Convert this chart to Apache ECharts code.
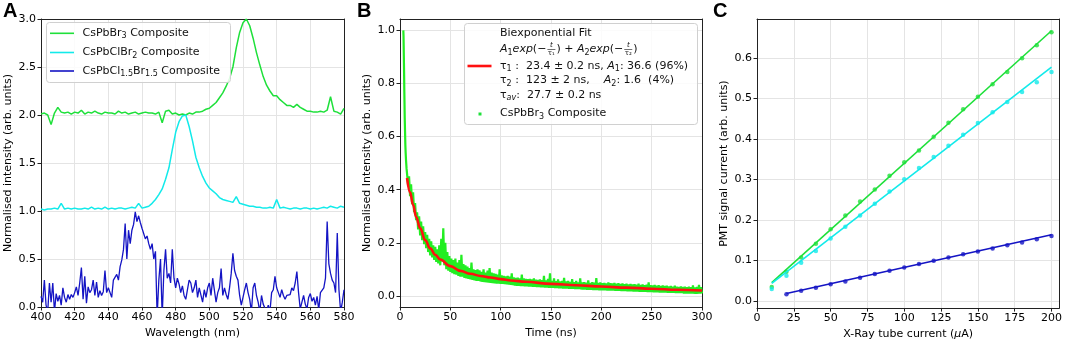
<!DOCTYPE html>
<html>
<head>
<meta charset="utf-8">
<script src="https://cdn.jsdelivr.net/npm/echarts@6/dist/echarts.min.js"></script>
<style>
  html, body { margin: 0; padding: 0; background: #fff; }
  #chart { width: 1065px; height: 345px; }
</style>
</head>
<body>
<div id="chart"></div>
<script>
// ---- panel A : emission spectra (normalised, offset) ----
var wlStart = 400;
// CsPbBr3, every 2 nm from 400
var specBr3 = [2.01,2.02,2.0,1.9,2.02,2.08,2.03,2.02,2.03,2.01,2.03,2.02,2.05,2.01,2.03,2.02,2.04,2.02,2.01,2.03,
  2.02,2.02,2.01,2.04,2.02,2.03,2.01,2.02,2.03,2.01,2.02,2.03,2.02,2.02,2.01,2.03,1.92,2.04,2.05,2.01,
  2.02,2.0,2.01,2.0,2.02,2.01,2.03,2.03,2.04,2.06,2.07,2.1,2.13,2.18,2.23,2.3,2.38,2.5,2.7,2.86,
  2.96,3.0,2.93,2.8,2.65,2.52,2.4,2.31,2.25,2.2,2.2,2.16,2.13,2.1,2.1,2.08,2.11,2.08,2.06,2.04,
  2.04,2.03,2.03,2.04,2.03,2.05,2.19,2.04,2.03,2.01,2.07];
// CsPbClBr2, every 2 nm from 400
var specClBr2 = [1.02,1.01,1.02,1.02,1.03,1.02,1.08,1.02,1.03,1.02,1.03,1.02,1.02,1.03,1.02,1.04,1.02,1.03,1.02,1.04,
  1.02,1.03,1.02,1.03,1.03,1.02,1.03,1.04,1.03,1.08,1.03,1.04,1.05,1.08,1.12,1.17,1.23,1.33,1.45,1.64,
  1.82,1.93,1.99,2.0,1.88,1.73,1.56,1.45,1.36,1.29,1.24,1.21,1.18,1.14,1.12,1.11,1.1,1.09,1.15,1.08,
  1.07,1.06,1.05,1.05,1.04,1.04,1.03,1.03,1.04,1.03,1.12,1.03,1.04,1.03,1.02,1.03,1.03,1.02,1.03,1.03,
  1.02,1.03,1.02,1.03,1.04,1.03,1.05,1.04,1.03,1.05,1.04];
// CsPbCl1.5Br1.5, every 1 nm from 400
var specCl15 = [0.11,0.05,0.28,0.02,-0.05,0.25,0.05,0.25,-0.05,0.14,0.06,0.12,0.02,0.2,0.1,0.05,0.13,0.08,0.13,0.1,
  0.15,0.21,0.12,0.25,0.41,0.08,0.32,0.04,0.21,0.15,0.18,0.28,0.12,0.26,0.1,0.17,0.12,0.16,0.38,0.15,
  0.2,0.21,0.1,0.28,0.3,0.34,0.28,0.42,0.49,0.6,0.87,0.5,0.8,0.66,0.8,0.86,0.99,0.89,0.95,0.88,
  0.82,0.8,0.71,0.74,0.66,0.6,0.66,0.5,0.58,-0.1,0.28,0.5,-0.1,0.38,0.6,0.3,0.35,0.25,0.6,0.3,
  0.2,0.3,0.24,0.15,0.22,0.12,0.08,0.18,0.28,0.25,0.15,0.2,0.28,0.1,0.2,0.18,0.05,0.18,0.1,0.2,
  0.25,0.12,0.3,0.32,0.05,0.15,0.2,0.4,0.12,0.2,0.13,0.08,0.2,0.35,0.56,0.38,0.32,0.28,0.12,0.02,
  0.1,0.18,0.25,0.15,0.08,-0.05,0.2,0.25,0.12,0.05,-0.05,0.12,0.03,0.05,-0.05,0.02,-0.05,0.15,0.18,0.32,
  0.2,0.15,0.1,0.18,0.12,0.08,0.12,0.1,0.13,0.2,0.17,0.25,0.37,0.15,-0.02,0.05,0.12,0.03,-0.02,0.1,
  0.14,0.06,0.1,0.02,0.11,-0.03,0.15,0.15,0.2,0.3,0.89,0.45,0.35,0.28,0.25,0.15,0.77,0.18,-0.05,0.05,
  0.18];

// ---- panel B : PL decay ----
var earlyT = [3.3,3.5,3.7,3.9,4.1,4.3,4.5,4.7,5.0,5.3,5.6,6.0,6.5];
var earlyV = [1.0,0.98,0.93,0.88,0.83,0.77,0.72,0.67,0.62,0.57,0.54,0.51,0.48];
var decayStart = 7; // ns, 1 ns steps
var decay = [0.475,0.42,0.45,0.375,0.42,0.345,0.39,0.315,0.35,0.285,
  0.315,0.25,0.30,0.228,0.28,0.21,0.262,0.195,0.24,0.18,
  0.23,0.165,0.215,0.152,0.205,0.145,0.19,0.135,0.185,0.128,
  0.175,0.122,0.19,0.115,0.215,0.13,0.255,0.115,0.20,0.10,
  0.165,0.095,0.15,0.09,0.14,0.085,0.135,0.082,0.14,0.08,
  0.125,0.075,0.135,0.072,0.155,0.072,0.12,0.068,0.115,0.066,
  0.11,0.064,0.105,0.062,0.125,0.06,0.10,0.058,0.097,0.056,
  0.10,0.056,0.096,0.054,0.09,0.053,0.10,0.052,0.088,0.051,
  0.095,0.05,0.105,0.049,0.088,0.048,0.085,0.047,0.083,0.046,
  0.08,0.046,0.10,0.045,
  0.077,0.045,0.075,0.044,0.073,0.043,0.075,0.042,0.072,0.041,
  0.085,0.04,0.07,0.039,0.068,0.038,0.069,0.038,0.066,0.037,
  0.08,0.037,0.066,0.036,0.064,0.036,0.063,0.035,0.064,0.035,
  0.062,0.034,0.066,0.034,0.061,0.033,0.06,0.033,0.062,0.032,
  0.059,0.032,0.075,0.031,0.058,0.031,0.064,0.03,0.085,0.03,
  0.056,0.03,0.066,0.029,0.055,0.029,0.062,0.028,0.054,0.028,
  0.056,0.027,0.068,0.027,0.054,0.027,0.056,0.026,0.053,0.026,
  0.063,0.026,0.052,0.025,0.056,0.025,0.051,0.025,0.066,0.024,
  0.051,0.024,0.052,0.024,0.05,0.023,0.058,0.023,0.049,0.023,
  0.052,0.022,0.05,0.022,0.067,0.022,0.049,0.021,0.051,0.021,
  0.048,0.021,0.049,0.021,0.047,0.02,0.051,0.02,0.048,0.02,
  0.047,0.02,0.049,0.019,0.046,0.019,0.048,0.019,0.045,0.018,
  0.047,0.018,0.044,0.018,0.046,0.017,0.043,0.017,0.045,0.017,
  0.043,0.016,0.044,0.016,0.042,0.016,0.046,0.015,0.041,0.015,
  0.043,0.015,0.04,0.015,0.042,0.014,0.051,0.014,0.04,0.014,
  0.039,0.013,0.041,0.013,0.038,0.013,0.04,0.012,0.037,0.012,
  0.039,0.012,0.037,0.012,0.038,0.011,0.036,0.011,0.037,0.011,
  0.035,0.011,0.038,0.010,0.035,0.010,0.034,0.010,0.036,0.010,
  0.034,0.009,0.035,0.009,0.033,0.009,0.035,0.009,0.033,0.009,
  0.039,0.008,0.032,0.008,0.034,0.008,0.041,0.009,0.033,0.009];
var fitT = [7,10,13,16,20,25,30,35,40,50,60,70,80,90,100,110,125,150,175,200,225,250,275,300];
var fitV = [0.444,0.39,0.343,0.298,0.255,0.21,0.179,0.155,0.137,0.112,0.094,0.083,0.075,0.069,0.063,0.058,0.053,0.045,0.04,0.035,0.031,0.027,0.023,0.02];
var yTicksB = [0, 0.2, 0.4, 0.6, 0.8, 1.0];

// ---- panel C : linearity vs tube current ----
var currC = [10,20,30,40,50,60,70,80,90,100,110,120,130,140,150,160,170,180,190,200];
var pmtBr3 = [0.034,0.072,0.107,0.141,0.177,0.211,0.245,0.275,0.309,0.342,0.371,0.405,0.44,0.473,0.504,0.535,0.565,0.599,0.631,0.663];
var pmtClBr2 = [0.029,0.062,0.094,0.123,0.154,0.183,0.211,0.24,0.27,0.30,0.328,0.355,0.383,0.41,0.439,0.466,0.491,0.516,0.54,0.565];
var currCl15 = [20,30,40,50,60,70,80,90,100,110,120,130,140,150,160,170,180,190,200];
var pmtCl15 = [0.016,0.025,0.032,0.041,0.048,0.057,0.066,0.074,0.082,0.091,0.099,0.107,0.115,0.122,0.129,0.137,0.144,0.152,0.16];
var fitBr3 = [[10, 0.045], [200, 0.667]];
var fitClBr2 = [[10, 0.043], [200, 0.577]];
var fitCl15 = [[20, 0.018], [200, 0.163]];
var xTicksC = [0, 25, 50, 75, 100, 125, 150, 175, 200];
var yTicksC = [0, 0.1, 0.2, 0.3, 0.4, 0.5, 0.6];

var GREEN = '#1ee03a', CYAN = '#12eaea', BLUE = '#1414c4', RED = '#ff1010';
var FONT = 'DejaVu Sans';

function pairs(xs, ys) { return ys.map(function (v, i) { return [xs[i], v]; }); }
function stepped(start, step, ys) { return ys.map(function (v, i) { return [start + i * step, v]; }); }

function mainAxis(gi, o) {
  var ax = {
    gridIndex: gi, type: 'value', min: o.min, max: o.max,
    axisLine: { show: true, onZero: false, lineStyle: { color: '#222', width: 1 } },
    axisTick: { show: true, inside: false, length: 3.5, lineStyle: { color: '#222' } },
    axisLabel: { color: '#000', fontFamily: FONT, fontSize: 11, margin: 5, formatter: o.fmt },
    splitLine: { show: true, lineStyle: { color: '#e4e4e4', width: 1 } },
    name: o.name, nameLocation: 'middle', nameGap: o.gap,
    nameTextStyle: { color: '#000', fontFamily: FONT, fontSize: 11, rich: o.rich }
  };
  if (o.interval) ax.interval = o.interval;
  if (o.ticks) { ax.axisLabel.customValues = o.ticks; ax.axisTick.customValues = o.ticks; }
  return ax;
}
function frameAxis(gi, min, max, pos) {
  return { gridIndex: gi, type: 'value', min: min, max: max, position: pos,
    axisLine: { show: true, onZero: false, lineStyle: { color: '#222', width: 1 } },
    axisTick: { show: false }, axisLabel: { show: false }, splitLine: { show: false } };
}
var f1 = function (v) { return v.toFixed(1); };
var f0 = function (v) { return String(Math.round(v)); };

var RICH = {
  n: { fontFamily: FONT, fontSize: 11, lineHeight: 14, fill: '#111' },
  i: { fontFamily: FONT, fontSize: 11, fontStyle: 'italic', lineHeight: 14, fill: '#111' },
  s: { fontFamily: FONT, fontSize: 8, lineHeight: 8, verticalAlign: 'bottom', fill: '#111' },
  si: { fontFamily: FONT, fontSize: 8, fontStyle: 'italic', lineHeight: 8, verticalAlign: 'bottom', fill: '#111' }
};
function rtext(x, y, txt) {
  return { type: 'text', x: x, y: y, z: 101,
    style: { text: txt, rich: RICH, fontFamily: FONT, fontSize: 11, fill: '#111', verticalAlign: 'middle', align: 'left' } };
}
function seg(x1, y1, x2, y2, color, w) {
  return { type: 'line', z: 101, shape: { x1: x1, y1: y1, x2: x2, y2: y2 }, style: { stroke: color, lineWidth: w } };
}

// width helpers for the little fit formula
var mctx = document.createElement('canvas').getContext('2d');
function tw(t, font) { mctx.font = font; return mctx.measureText(t).width; }
var fN = '11px "DejaVu Sans"', fI = 'italic 11px "DejaVu Sans"', fS = '8px "DejaVu Sans"';

var graphics = [];
// panel letters
['A', 'B', 'C'].forEach(function (l, k) {
  graphics.push({ type: 'text', x: [3, 357, 713][k], y: 1, z: 101,
    style: { text: l, font: 'bold 20px "Liberation Sans"', fill: '#000', verticalAlign: 'top' } });
});
// legend A
graphics.push({ type: 'rect', z: 100, shape: { x: 46.5, y: 22.5, width: 184, height: 60, r: 3 },
  style: { fill: 'rgba(255,255,255,0.85)', stroke: '#d0d0d0', lineWidth: 1 } });
var legA = [
  [GREEN, '{n|CsPbBr}{s|3}{n| Composite}'],
  [CYAN, '{n|CsPbClBr}{s|2}{n| Composite}'],
  [BLUE, '{n|CsPbCl}{s|1.5}{n|Br}{s|1.5}{n| Composite}']
];
legA.forEach(function (r, k) {
  var y = [33.3, 52.5, 71][k];
  graphics.push(seg(50, y, 74, y, r[0], 1.6));
  graphics.push(rtext(82.5, y, r[1]));
});
// legend B
graphics.push({ type: 'rect', z: 100, shape: { x: 464.5, y: 23.5, width: 233, height: 101, r: 3 },
  style: { fill: 'rgba(255,255,255,0.85)', stroke: '#d0d0d0', lineWidth: 1 } });
graphics.push(rtext(500, 33.5, '{n|Biexponential Fit}'));
(function () {
  var y = 49.5, x = 500;
  graphics.push(rtext(x, y, '{i|A}{s|1}{i|exp}{n|(−}'));
  x += tw('A', fI) + tw('1', fS) + tw('exp', fI) + tw('(−', fN) + 1;
  function frac(cx, sub) {
    graphics.push({ type: 'text', x: cx, y: y - 1, z: 101, style: { text: 't', font: 'italic 7px "DejaVu Sans"', fill: '#111', align: 'center', verticalAlign: 'bottom' } });
    graphics.push({ type: 'text', x: cx, y: y + 0.5, z: 101, style: { text: 'τ' + sub, font: '7px "DejaVu Sans"', fill: '#111', align: 'center', verticalAlign: 'top' } });
    graphics.push(seg(cx - 4, y, cx + 4, y, '#111', 0.6));
  }
  frac(x + 4, '₁');
  x += 9;
  graphics.push(rtext(x, y, '{n|) + }{i|A}{s|2}{i|exp}{n|(−}'));
  x += tw(') + ', fN) + tw('A', fI) + tw('2', fS) + tw('exp', fI) + tw('(−', fN) + 1;
  frac(x + 4, '₂');
  x += 9;
  graphics.push(rtext(x, y, '{n|)}'));
})();
graphics.push(seg(467.5, 66, 491.5, 66, RED, 2.6));
graphics.push(rtext(500, 66, '{n|τ}{s|1}{n| :  23.4 ± 0.2 ns, }{i|A}{s|1}{n|: 36.6 (96%)}'));
graphics.push(rtext(500, 80.5, '{n|τ}{s|2}{n| :  123 ± 2 ns,    }{i|A}{s|2}{n|: 1.6  (4%)}'));
graphics.push(rtext(500, 95, '{n|τ}{si|av}{n|:  27.7 ± 0.2 ns}'));
graphics.push({ type: 'rect', z: 101, shape: { x: 478.5, y: 112.5, width: 3, height: 3 }, style: { fill: GREEN } });
graphics.push(rtext(500, 113.5, '{n|CsPbBr}{s|3}{n| Composite}'));

var decayData = pairs(earlyT, earlyV).concat(stepped(decayStart, 1, decay));

var option = {
  animation: false,
  backgroundColor: '#fff',
  textStyle: { fontFamily: FONT },
  grid: [
    { left: 41, top: 19, width: 303, height: 288 },
    { left: 400, top: 19, width: 302, height: 288 },
    { left: 757, top: 19, width: 303, height: 290 }
  ],
  xAxis: [
    mainAxis(0, { min: 400, max: 580, interval: 20, fmt: f0, name: 'Wavelength (nm)', gap: 18 }),
    mainAxis(1, { min: 0, max: 300, interval: 50, fmt: f0, name: 'Time (ns)', gap: 18 }),
    mainAxis(2, { min: 0, max: 205.3, interval: 25, ticks: xTicksC, fmt: f0,
      name: '{n|X-Ray tube current (}{i|μ}{n|A)}', gap: 16,
      rich: { n: { fontFamily: FONT, fontSize: 11, color: '#000' }, i: { fontFamily: FONT, fontSize: 11, fontStyle: 'italic', color: '#000' } } }),
    frameAxis(0, 400, 580, 'top'),
    frameAxis(1, 0, 300, 'top'),
    frameAxis(2, 0, 205.3, 'top')
  ],
  yAxis: [
    mainAxis(0, { min: 0, max: 3, interval: 0.5, fmt: f1, name: 'Normalised intensity (arb. units)', gap: 27 }),
    mainAxis(1, { min: -0.042, max: 1.043, ticks: yTicksB, fmt: f1, name: 'Normalised Intensity (arb. units)', gap: 27 }),
    mainAxis(2, { min: -0.018, max: 0.696, ticks: yTicksC, fmt: f1, name: 'PMT signal current (arb. units)', gap: 27 }),
    frameAxis(0, 0, 3, 'right'),
    frameAxis(1, -0.042, 1.043, 'right'),
    frameAxis(2, -0.018, 0.696, 'right')
  ],
  series: [
    { type: 'line', xAxisIndex: 0, yAxisIndex: 0, data: stepped(wlStart, 2, specBr3), showSymbol: false,
      lineStyle: { color: GREEN, width: 1.5 }, clip: true },
    { type: 'line', xAxisIndex: 0, yAxisIndex: 0, data: stepped(wlStart, 2, specClBr2), showSymbol: false,
      lineStyle: { color: CYAN, width: 1.5 }, clip: true },
    { type: 'line', xAxisIndex: 0, yAxisIndex: 0, data: stepped(wlStart, 1, specCl15), showSymbol: false,
      lineStyle: { color: BLUE, width: 1.3 }, clip: true },

    { type: 'line', xAxisIndex: 1, yAxisIndex: 1, data: decayData, showSymbol: false,
      lineStyle: { color: '#22ee22', width: 2.2 }, clip: true },
    { type: 'line', xAxisIndex: 1, yAxisIndex: 1, data: pairs(fitT, fitV), showSymbol: false, smooth: 0.4, smoothMonotone: 'x',
      lineStyle: { color: RED, width: 2.6 }, z: 5 },

    { type: 'line', xAxisIndex: 2, yAxisIndex: 2, data: fitBr3, showSymbol: false, lineStyle: { color: GREEN, width: 1.6 } },
    { type: 'line', xAxisIndex: 2, yAxisIndex: 2, data: fitClBr2, showSymbol: false, lineStyle: { color: CYAN, width: 1.6 } },
    { type: 'line', xAxisIndex: 2, yAxisIndex: 2, data: fitCl15, showSymbol: false, lineStyle: { color: BLUE, width: 1.6 } },
    { type: 'scatter', xAxisIndex: 2, yAxisIndex: 2, data: pairs(currC, pmtBr3), symbolSize: 4.5, itemStyle: { color: GREEN } },
    { type: 'scatter', xAxisIndex: 2, yAxisIndex: 2, data: pairs(currC, pmtClBr2), symbolSize: 4.5, itemStyle: { color: CYAN } },
    { type: 'scatter', xAxisIndex: 2, yAxisIndex: 2, data: pairs(currCl15, pmtCl15), symbolSize: 4.5, itemStyle: { color: BLUE } }
  ],
  graphic: { elements: graphics }
};

var chart = echarts.init(document.getElementById('chart'), null, { renderer: 'canvas' });
chart.setOption(option);
</script>
</body>
</html>
